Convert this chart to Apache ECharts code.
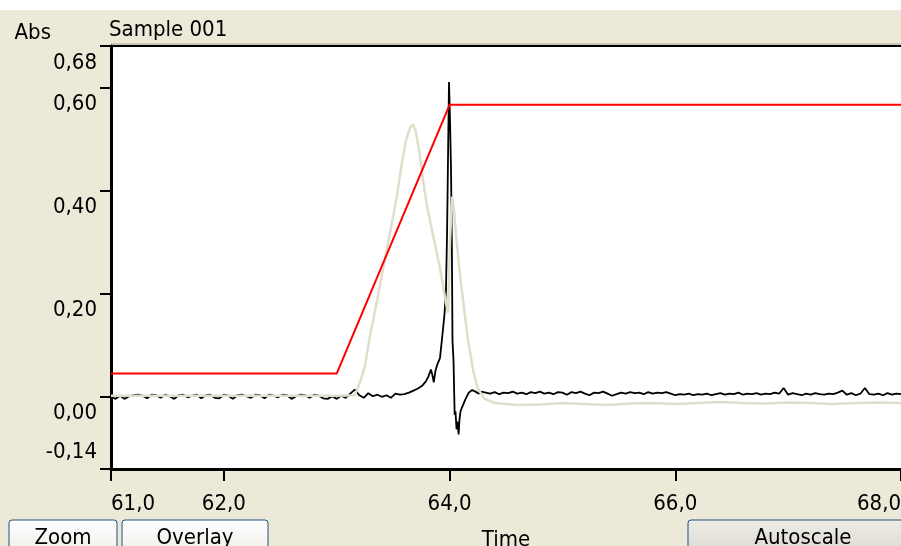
<!DOCTYPE html>
<html>
<head>
<meta charset="utf-8">
<script src="https://cdn.jsdelivr.net/npm/echarts@6/dist/echarts.min.js"></script>
<style>
  html, body { margin: 0; padding: 0; background: #ECE9D8; }
  #chart { width: 901px; height: 546px; }
</style>
</head>
<body>
<div id="chart"></div>
<script>
// Axis ticks and labels
const xTickValues = [61, 62, 64, 66, 68];
const xTickLabels = ['61,0', '62,0', '64,0', '66,0', '68,0'];
const yTickValues = [-0.14, 0, 0.2, 0.4, 0.6, 0.68];
const yTickLabels = ['-0,14', '0,00', '0,20', '0,40', '0,60', '0,68'];

// Absorbance trace (black): regularly sampled baseline before the peak
const blackLeftStart = 61.0;
const blackStep = 0.04;
const blackLeft = [
  0.000, -0.004, 0.002, -0.004, 0.001, 0.003, 0.004, 0.002, -0.003, 0.004,
  0.003, -0.002, 0.004, 0.001, -0.004, 0.003, 0.004, -0.001, 0.002, 0.004,
  -0.003, 0.003, 0.004, -0.002, -0.003, 0.004, 0.002, -0.004, 0.003, 0.004,
  0.001, -0.002, 0.004, 0.003, -0.003, 0.004, 0.002, -0.001, 0.004, 0.003,
  -0.004, 0.001, 0.004, 0.003, -0.002, 0.004, 0.002, -0.003, -0.004, 0.001,
  -0.004, 0.002, -0.002, 0.006, 0.014, 0.003, -0.002, 0.007, 0.001, 0.004,
  0.000, 0.003, -0.002, 0.006, 0.004
];
// Absorbance trace (black): the sharp peak around 64 min, [time, value]
const blackPeak = [
  [63.60, 0.005], [63.64, 0.008], [63.68, 0.012], [63.72, 0.016], [63.76, 0.022],
  [63.79, 0.030], [63.81, 0.038], [63.835, 0.053], [63.85, 0.040], [63.86, 0.028],
  [63.875, 0.050], [63.89, 0.062], [63.915, 0.075], [63.94, 0.127], [63.955, 0.160],
  [63.968, 0.205], [63.978, 0.320], [63.987, 0.477], [63.995, 0.610], [64.004, 0.535],
  [64.013, 0.438], [64.020, 0.300], [64.026, 0.108], [64.035, 0.070], [64.045, -0.035],
  [64.052, -0.028], [64.062, -0.063], [64.070, -0.048], [64.080, -0.073], [64.088, -0.044],
  [64.097, -0.028], [64.115, -0.018], [64.140, -0.005], [64.170, 0.008], [64.200, 0.013],
  [64.230, 0.010], [64.260, 0.006]
];
// Absorbance trace (black): regularly sampled baseline after the peak
const blackRightStart = 64.28;
const blackRight = [
  0.010, 0.008, 0.006, 0.009, 0.005, 0.008, 0.007, 0.010, 0.006, 0.008,
  0.005, 0.009, 0.007, 0.010, 0.006, 0.008, 0.005, 0.009, 0.008, 0.004,
  0.009, 0.007, 0.010, 0.006, 0.003, 0.008, 0.007, 0.010, 0.006, 0.002,
  0.005, 0.008, 0.006, 0.009, 0.007, 0.008, 0.005, 0.009, 0.006, 0.008,
  0.007, 0.009, 0.006, 0.003, 0.005, 0.004, 0.006, 0.003, 0.005, 0.004,
  0.006, 0.003, 0.005, 0.007, 0.004, 0.006, 0.005, 0.008, 0.004, 0.006,
  0.005, 0.007, 0.004, 0.006, 0.005, 0.008, 0.006, 0.017, 0.004, 0.007,
  0.005, 0.003, 0.006, 0.004, 0.007, 0.005, 0.004, 0.006, 0.005, 0.008,
  0.012, 0.004, 0.007, 0.003, 0.006, 0.017, 0.005, 0.004, 0.006, 0.003,
  0.007, 0.004, 0.006, 0.005
];

// Overlay trace (light), [time, value]
const overlayTrace = [
  [61.0, 0.002], [61.5, 0.002], [62.0, 0.002], [62.5, 0.002], [63.0, 0.002],
  [63.16, 0.003], [63.21, 0.030], [63.25, 0.060], [63.295, 0.118], [63.357, 0.186],
  [63.428, 0.268], [63.49, 0.338], [63.534, 0.390], [63.578, 0.454], [63.614, 0.497],
  [63.65, 0.522], [63.676, 0.528], [63.70, 0.515], [63.73, 0.478], [63.765, 0.420],
  [63.80, 0.370], [63.854, 0.313], [63.915, 0.249], [63.969, 0.181], [63.987, 0.163],
  [64.004, 0.303], [64.022, 0.388], [64.04, 0.361], [64.057, 0.313], [64.084, 0.254],
  [64.12, 0.186], [64.164, 0.109], [64.21, 0.050], [64.25, 0.016], [64.31, -0.004],
  [64.40, -0.012], [64.6, -0.016], [64.8, -0.015], [65.0, -0.012], [65.2, -0.014],
  [65.4, -0.016], [65.6, -0.013], [65.8, -0.012], [66.0, -0.014], [66.2, -0.012],
  [66.4, -0.010], [66.6, -0.012], [66.8, -0.013], [67.0, -0.011], [67.2, -0.012],
  [67.4, -0.014], [67.6, -0.012], [67.8, -0.011], [68.0, -0.012]
];

// Gradient program (red), [time, value]
const gradientTrace = [[61.0, 0.045], [63.0, 0.045], [64.0, 0.566], [68.0, 0.566]];

const FONT = "'DejaVu Sans Condensed', 'Liberation Sans', sans-serif";
const FS = 22;

function sampled(start, step, values) {
  return values.map((v, i) => [+(start + i * step).toFixed(4), v]);
}
const blackTrace = sampled(blackLeftStart, blackStep, blackLeft)
  .concat(blackPeak)
  .concat(sampled(blackRightStart, blackStep, blackRight));

function labelFor(values, labels, v) {
  for (let i = 0; i < values.length; i++) {
    if (Math.abs(values[i] - v) < 1e-6) return labels[i];
  }
  return '';
}

function button(x, y, w, h, text, pressed) {
  return {
    type: 'group',
    children: [
      {
        type: 'rect',
        shape: { x: x, y: y, width: w, height: h, r: 3 },
        style: {
          fill: new echarts.graphic.LinearGradient(0, 0, 0, 1, pressed
            ? [{ offset: 0, color: '#EDECE6' }, { offset: 1, color: '#D8D6CC' }]
            : [{ offset: 0, color: '#FFFFFF' }, { offset: 1, color: '#ECEBE4' }]),
          stroke: '#1C5180',
          lineWidth: 1
        }
      },
      {
        type: 'text',
        style: {
          text: text,
          x: x + w / 2,
          y: y + 7,
          align: 'center',
          verticalAlign: 'top',
          font: FS + 'px ' + FONT,
          fill: '#000'
        }
      }
    ]
  };
}

const chart = echarts.init(document.getElementById('chart'), null, { renderer: 'canvas' });
chart.setOption({
  animation: false,
  backgroundColor: '#ECE9D8',
  textStyle: { fontFamily: FONT },
  title: {
    text: 'Sample 001',
    left: 109,
    top: 19,
    padding: 0,
    textStyle: { fontFamily: FONT, fontSize: FS, fontWeight: 'normal', color: '#000' }
  },
  grid: {
    left: 111,
    right: 0,
    top: 46,
    bottom: 77,
    outerBoundsMode: 'none',
    containLabel: false,
    show: true,
    backgroundColor: '#FFFFFF',
    borderWidth: 0
  },
  xAxis: [
    {
      type: 'value',
      min: 61,
      max: 68,
      position: 'bottom',
      name: 'Time',
      nameLocation: 'middle',
      nameGap: 60,
      nameTextStyle: { fontFamily: FONT, fontSize: FS, color: '#000', verticalAlign: 'top' },
      axisLine: { show: true, onZero: false, lineStyle: { color: '#000', width: 3 } },
      axisTick: {
        show: true,
        customValues: xTickValues,
        length: 12,
        lineStyle: { color: '#000', width: 2 }
      },
      axisLabel: {
        customValues: xTickValues,
        formatter: v => labelFor(xTickValues, xTickLabels, v),
        margin: 24,
        fontFamily: FONT,
        fontSize: FS,
        color: '#000',
        showMinLabel: true,
        showMaxLabel: true,
        alignMinLabel: 'left',
        alignMaxLabel: 'right'
      },
      splitLine: { show: false }
    },
    {
      type: 'value',
      min: 61,
      max: 68,
      position: 'top',
      axisLine: { show: true, onZero: false, lineStyle: { color: '#000', width: 2 } },
      axisTick: { show: false },
      axisLabel: { show: false },
      splitLine: { show: false }
    }
  ],
  yAxis: {
    type: 'value',
    min: -0.14,
    max: 0.68,
    name: 'Abs',
    nameLocation: 'end',
    nameGap: 2,
    nameTextStyle: {
      fontFamily: FONT, fontSize: FS, color: '#000',
      align: 'right', padding: [0, 60, 0, 0]
    },
    axisLine: { show: true, onZero: false, lineStyle: { color: '#000', width: 3 } },
    axisTick: {
      show: true,
      customValues: yTickValues,
      length: 11,
      lineStyle: { color: '#000', width: 2 }
    },
    axisLabel: {
      customValues: yTickValues,
      formatter: v => labelFor(yTickValues, yTickLabels, v),
      // labels hang just under their tick; the lowest one sits above its tick
      verticalAlign: 'top',
      verticalAlignMinLabel: 'bottom',
      lineHeight: 34,
      margin: 14,
      fontFamily: FONT,
      fontSize: FS,
      color: '#000',
      showMinLabel: true,
      showMaxLabel: true,
      hideOverlap: false
    },
    splitLine: { show: false }
  },
  series: [
    {
      type: 'line',
      data: blackTrace,
      showSymbol: false,
      lineStyle: { color: '#000000', width: 1.8 },
      z: 2
    },
    {
      type: 'line',
      data: overlayTrace,
      showSymbol: false,
      lineStyle: { color: '#E0DDCA', width: 2.5 },
      z: 3
    },
    {
      type: 'line',
      data: gradientTrace,
      showSymbol: false,
      lineStyle: { color: '#FF0000', width: 2 },
      z: 4
    }
  ],
  graphic: [
    { type: 'rect', shape: { x: 0, y: 0, width: 901, height: 10 }, style: { fill: '#FFFFFF' }, silent: true },
    { type: 'line', shape: { x1: 111, y1: 44, x2: 901, y2: 44 }, style: { stroke: '#A7A494', lineWidth: 1 }, silent: true },
    button(9, 520, 108, 40, 'Zoom', false),
    button(122, 520, 146, 40, 'Overlay', false),
    button(688, 520, 230, 40, 'Autoscale', true)
  ]
});
</script>
</body>
</html>
